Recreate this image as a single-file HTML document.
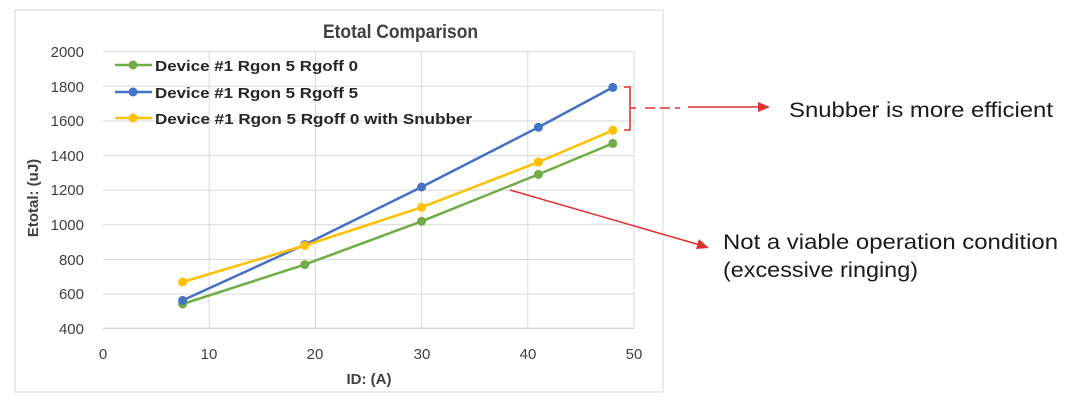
<!DOCTYPE html>
<html><head><style>body{margin:0;background:#fff;font-family:"Liberation Sans",sans-serif}</style></head><body>
<svg width="1080" height="404" xmlns="http://www.w3.org/2000/svg" font-family="Liberation Sans, sans-serif">
<rect x="0" y="0" width="1080" height="404" fill="#fff"/>
<rect x="15" y="10" width="648" height="382" fill="#fff" stroke="#d9d9d9"/>
<g stroke="#d9d9d9" stroke-width="1">
<line x1="103" y1="51.7" x2="634" y2="51.7"/><line x1="103" y1="86.3" x2="634" y2="86.3"/><line x1="103" y1="121" x2="634" y2="121"/><line x1="103" y1="155.6" x2="634" y2="155.6"/><line x1="103" y1="190.2" x2="634" y2="190.2"/><line x1="103" y1="224.8" x2="634" y2="224.8"/><line x1="103" y1="259.5" x2="634" y2="259.5"/><line x1="103" y1="294.1" x2="634" y2="294.1"/>
<line x1="209.2" y1="51.7" x2="209.2" y2="328.3"/><line x1="315.4" y1="51.7" x2="315.4" y2="328.3"/><line x1="421.6" y1="51.7" x2="421.6" y2="328.3"/><line x1="527.8" y1="51.7" x2="527.8" y2="328.3"/><line x1="634" y1="51.7" x2="634" y2="328.3"/>
</g>
<line x1="103" y1="328.3" x2="634" y2="328.3" stroke="#bfbfbf"/>
<g font-size="15" fill="#404040" text-anchor="end">
<text x="84" y="57">2000</text><text x="84" y="92">1800</text><text x="84" y="126">1600</text><text x="84" y="161">1400</text><text x="84" y="195">1200</text><text x="84" y="230">1000</text><text x="84" y="265">800</text><text x="84" y="299">600</text><text x="84" y="334">400</text>
</g>
<g font-size="15" fill="#404040" text-anchor="middle">
<text x="103" y="359">0</text><text x="209" y="359">10</text><text x="315" y="359">20</text><text x="422" y="359">30</text><text x="528" y="359">40</text><text x="634" y="359">50</text>
</g>
<text x="369" y="384" font-size="15" font-weight="bold" fill="#404040" text-anchor="middle">ID: (A)</text>
<text transform="translate(38,198) rotate(-90)" font-size="15" font-weight="bold" fill="#404040" text-anchor="middle">Etotal: (uJ)</text>
<text x="323" y="38" font-size="19" font-weight="bold" fill="#404040" textLength="155" lengthAdjust="spacingAndGlyphs">Etotal Comparison</text>
<g fill="none" stroke-width="2.5">
<polyline stroke="#70ad47" points="182.6,304 304.8,264.6 421.6,221.3 538.4,174.4 612.8,143.4"/>
<polyline stroke="#4472c4" points="182.6,300.4 304.8,244.6 421.6,187 538.4,127.3 612.8,87.4"/>
<polyline stroke="#ffc000" points="182.6,282 304.8,245.5 421.6,207.3 538.4,162.1 612.8,130.3"/>
</g>
<g fill="#70ad47"><circle cx="182.6" cy="304" r="4.5"/><circle cx="304.8" cy="264.6" r="4.5"/><circle cx="421.6" cy="221.3" r="4.5"/><circle cx="538.4" cy="174.4" r="4.5"/><circle cx="612.8" cy="143.4" r="4.5"/></g>
<g fill="#4472c4"><circle cx="182.6" cy="300.4" r="4.5"/><circle cx="304.8" cy="244.6" r="4.5"/><circle cx="421.6" cy="187" r="4.5"/><circle cx="538.4" cy="127.3" r="4.5"/><circle cx="612.8" cy="87.4" r="4.5"/></g>
<g fill="#ffc000"><circle cx="182.6" cy="282" r="4.5"/><circle cx="304.8" cy="245.5" r="4.5"/><circle cx="421.6" cy="207.3" r="4.5"/><circle cx="538.4" cy="162.1" r="4.5"/><circle cx="612.8" cy="130.3" r="4.5"/></g>
<g stroke-width="2.5">
<line x1="115" y1="65" x2="152" y2="65" stroke="#70ad47"/><circle cx="133" cy="65" r="4.5" fill="#70ad47"/>
<line x1="115" y1="92" x2="152" y2="92" stroke="#4472c4"/><circle cx="133" cy="92" r="4.5" fill="#4472c4"/>
<line x1="115" y1="118" x2="152" y2="118" stroke="#ffc000"/><circle cx="133" cy="118" r="4.5" fill="#ffc000"/>
</g>
<g font-size="15" font-weight="bold" fill="#262626">
<text x="155" y="71" textLength="203" lengthAdjust="spacingAndGlyphs">Device #1 Rgon 5 Rgoff 0</text>
<text x="155" y="98" textLength="203" lengthAdjust="spacingAndGlyphs">Device #1 Rgon 5 Rgoff 5</text>
<text x="155" y="124" textLength="317" lengthAdjust="spacingAndGlyphs">Device #1 Rgon 5 Rgoff 0 with Snubber</text>
</g>
<g stroke="#e03030" stroke-width="1.5" fill="none">
<polyline points="624,87 630,87 630,130 624,130"/>
<line x1="630" y1="108" x2="636" y2="108"/>
<line x1="645" y1="108" x2="680" y2="108" stroke-dasharray="10,5"/>
<line x1="688" y1="107" x2="760" y2="107"/>
<line x1="510" y1="190" x2="700" y2="245"/>
</g>
<polygon points="770,107 758,102 758,112" fill="#e03030"/>
<polygon points="709,248 696,249 699,239" fill="#e03030"/>
<g font-size="21" fill="#1a1a1a">
<text x="789" y="117" textLength="264" lengthAdjust="spacingAndGlyphs">Snubber is more efficient</text>
<text x="723" y="249" textLength="335" lengthAdjust="spacingAndGlyphs">Not a viable operation condition</text>
<text x="723" y="277" textLength="195" lengthAdjust="spacingAndGlyphs">(excessive ringing)</text>
</g>
</svg>
</body></html>
